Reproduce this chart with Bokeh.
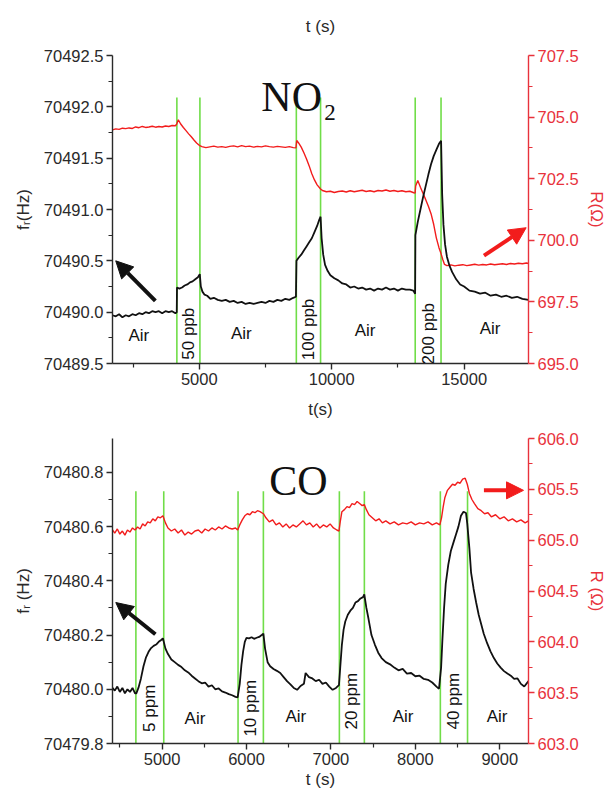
import numpy as np
from bokeh.plotting import figure
from bokeh.models import (Range1d, LinearAxis, FixedTicker, PrintfTickFormatter,
                          Arrow, NormalHead)
from bokeh.layouts import column
from bokeh.core.properties import value
from bokeh.embed import file_html
from bokeh.resources import INLINE

# ---------------------------------------------------------------- NO2 data
no2_t_f = [
    1725, 1850, 1975, 2100, 2225, 2350, 2475, 2600, 2725, 2850, 2975, 3100, 3225, 3350, 3475, 3600, 3725, 3850, 3975, 4100, 4150,
    4160, 4250, 4350, 4450, 4550, 4650, 4750, 4850, 4950, 5020,
    5060, 5120, 5200, 5300, 5420, 5550, 5700, 5850, 6000, 6150, 6300, 6450, 6600, 6750, 6900, 7050, 7200, 7350, 7500, 7650, 7800, 7950, 8100, 8250, 8400, 8550, 8650,
    8670, 8750, 8850, 8950, 9050, 9150, 9250, 9350, 9450, 9530, 9580,
    9620, 9680, 9750, 9850, 9950, 10100, 10250, 10400, 10550, 10700, 10850, 11000, 11150, 11300, 11450, 11600, 11750, 11900, 12050, 12200, 12350, 12500, 12650, 12800, 12950, 13080, 13150,
    13160, 13250, 13350, 13450, 13550, 13650, 13750, 13850, 13950, 14050, 14130,
    14170, 14220, 14280, 14350, 14450, 14550, 14700, 14850, 15000, 15200, 15400, 15600, 15800, 16000, 16200, 16400, 16600, 16800, 17000, 17200, 17430,
]
no2_freq = [
    70489.97, 70489.96, 70489.98, 70489.95, 70489.97, 70489.96, 70489.98, 70489.97, 70489.99, 70489.98, 70490.00, 70489.99, 70490.01, 70490.00, 70490.01, 70489.99, 70490.01, 70490.00, 70490.01, 70489.99, 70490.00,
    70490.24, 70490.23, 70490.24, 70490.26, 70490.27, 70490.29, 70490.30, 70490.32, 70490.34, 70490.37,
    70490.25, 70490.20, 70490.17, 70490.16, 70490.13, 70490.14, 70490.12, 70490.11, 70490.12, 70490.10, 70490.11, 70490.09, 70490.10, 70490.08, 70490.09, 70490.08, 70490.09, 70490.10, 70490.09, 70490.11, 70490.10, 70490.12, 70490.11, 70490.13, 70490.12, 70490.14, 70490.15,
    70490.50, 70490.53, 70490.56, 70490.60, 70490.64, 70490.68, 70490.72, 70490.78, 70490.84, 70490.90, 70490.93,
    70490.72, 70490.56, 70490.46, 70490.40, 70490.36, 70490.33, 70490.31, 70490.28, 70490.27, 70490.24, 70490.25, 70490.23, 70490.24, 70490.22, 70490.23, 70490.21, 70490.23, 70490.22, 70490.24, 70490.22, 70490.23, 70490.21, 70490.23, 70490.22, 70490.22, 70490.21, 70490.18,
    70490.75, 70490.88, 70491.00, 70491.12, 70491.23, 70491.34, 70491.44, 70491.52, 70491.58, 70491.64, 70491.67,
    70491.15, 70490.85, 70490.66, 70490.54, 70490.45, 70490.39, 70490.32, 70490.27, 70490.25, 70490.21, 70490.20, 70490.18, 70490.19, 70490.16, 70490.17, 70490.15, 70490.16, 70490.14, 70490.15, 70490.13, 70490.12,
]
no2_t_r = [
    1725, 1850, 1975, 2100, 2225, 2350, 2475, 2600, 2725, 2850, 2975, 3100, 3225, 3350, 3475, 3600, 3725, 3850, 3975, 4100,
    4150, 4210, 4300, 4400, 4500, 4600, 4700, 4800, 4900, 5020,
    5100, 5250, 5400, 5550, 5700, 5850, 6000, 6150, 6300, 6450, 6600, 6750, 6900, 7050, 7200, 7350, 7500, 7650, 7800, 7950, 8100, 8250, 8400, 8550, 8650,
    8680, 8750, 8850, 8950, 9050, 9150, 9250, 9350, 9450, 9580,
    9650, 9800, 9950, 10100, 10250, 10400, 10550, 10700, 10850, 11000, 11150, 11300, 11450, 11600, 11750, 11900, 12050, 12200, 12350, 12500, 12650, 12800, 12950, 13100, 13150,
    13170, 13250, 13350, 13450, 13550, 13650, 13750, 13850, 13950, 14050, 14130, 14200, 14260,
    14350, 14500, 14650, 14800, 14950, 15100, 15250, 15400, 15550, 15700, 15850, 16000, 16150, 16300, 16450, 16600, 16750, 16900, 17050, 17200, 17350, 17430,
]
no2_res = [
    704.48, 704.52, 704.50, 704.55, 704.53, 704.56, 704.54, 704.60, 704.57, 704.62, 704.58, 704.60, 704.63, 704.59, 704.62, 704.60, 704.64, 704.62, 704.66, 704.65,
    704.72, 704.89, 704.72, 704.58, 704.45, 704.32, 704.20, 704.07, 703.95, 703.84,
    703.80, 703.76, 703.79, 703.82, 703.78, 703.80, 703.77, 703.81, 703.83, 703.79, 703.84, 703.80, 703.82, 703.78, 703.81, 703.79, 703.83, 703.80, 703.78, 703.81, 703.79, 703.77, 703.80, 703.76, 703.75,
    704.05, 703.95, 703.78, 703.55, 703.30, 703.02, 702.70, 702.45, 702.25, 702.08,
    702.02, 701.97, 701.99, 701.94, 701.98, 702.00, 701.96, 702.01, 701.97, 702.00, 702.03, 701.98, 702.01, 701.97, 702.02, 702.00, 702.04, 701.99, 702.02, 701.98, 702.01, 701.97, 701.99, 701.93, 701.92,
    702.20, 702.43, 702.15, 701.90, 701.65, 701.38, 701.08, 700.65, 700.10, 699.70, 699.45, 699.20, 699.02,
    698.97, 699.00, 698.96, 698.99, 699.01, 698.97, 699.00, 699.03, 698.99, 699.02, 699.00, 699.04, 699.01, 699.03, 699.05, 699.02, 699.06, 699.04, 699.07, 699.05, 699.08, 699.06,
]
no2_switch = [4155, 5025, 8665, 9580, 13153, 14128]
no2_gas = ["50 ppb", "100 ppb", "200 ppb"]
no2_ticks_t = [5000, 10000, 15000]
no2_minor_t = [2500, 7500, 12500, 17500]
no2_ticks_f = [70489.5, 70490.0, 70490.5, 70491.0, 70491.5, 70492.0, 70492.5]
no2_ticks_r = [695.0, 697.5, 700.0, 702.5, 705.0, 707.5]

# ----------------------------------------------------------------- CO data
co_t_f = [
    4413, 4440, 4470, 4500, 4530, 4560, 4590, 4620, 4650, 4680, 4695,
    4720, 4750, 4780, 4810, 4840, 4870, 4900, 4930, 4960, 4990, 5010,
    5040, 5070, 5110, 5150, 5190, 5230, 5270, 5310, 5350, 5390, 5430, 5470, 5510, 5550, 5590, 5630, 5670, 5710, 5750, 5790, 5830, 5870, 5895,
    5920, 5940, 5960, 5980, 6000, 6030, 6060, 6090, 6120, 6150, 6180, 6200,
    6220, 6250, 6280, 6320, 6360, 6400, 6440, 6480, 6520, 6560, 6600, 6640, 6680, 6700, 6740, 6780, 6820, 6860, 6900, 6940, 6980, 7020, 7060, 7095,
    7110, 7130, 7150, 7170, 7200, 7230, 7260, 7290, 7320, 7350, 7380, 7395,
    7420, 7445, 7480, 7520, 7560, 7600, 7650, 7700, 7750, 7800, 7850, 7900, 7950, 8000, 8050, 8100, 8150, 8200, 8250, 8280,
    8305, 8320, 8340, 8360, 8390, 8420, 8450, 8480, 8510, 8540, 8570, 8600, 8615,
    8640, 8660, 8690, 8720, 8750, 8780, 8810, 8850, 8890, 8930, 8970, 9010, 9050, 9090, 9130, 9170, 9210, 9250, 9290, 9340,
]
co_freq = [
    70480.005, 70479.995, 70480.010, 70479.990, 70480.005, 70479.985, 70480.000, 70479.990, 70480.005, 70479.985, 70479.985,
    70480.005, 70480.040, 70480.085, 70480.118, 70480.138, 70480.152, 70480.160, 70480.165, 70480.175, 70480.182, 70480.188,
    70480.150, 70480.130, 70480.110, 70480.100, 70480.090, 70480.082, 70480.070, 70480.062, 70480.050, 70480.040, 70480.030, 70480.022, 70480.025, 70480.010, 70480.015, 70480.000, 70480.003, 70479.992, 70479.988, 70479.982, 70479.978, 70479.972, 70479.970,
    70480.020, 70480.090, 70480.140, 70480.175, 70480.190, 70480.188, 70480.192, 70480.186, 70480.190, 70480.193, 70480.200, 70480.205,
    70480.150, 70480.100, 70480.085, 70480.075, 70480.068, 70480.060, 70480.045, 70480.030, 70480.018, 70480.005, 70479.998, 70480.012, 70480.020, 70480.060, 70480.045, 70480.040, 70480.030, 70480.035, 70480.020, 70480.025, 70480.010, 70479.998, 70480.005, 70480.015,
    70480.080, 70480.165, 70480.220, 70480.250, 70480.275, 70480.290, 70480.300, 70480.320, 70480.325, 70480.335, 70480.340, 70480.350,
    70480.300, 70480.260, 70480.200, 70480.165, 70480.135, 70480.115, 70480.100, 70480.092, 70480.080, 70480.070, 70480.075, 70480.058, 70480.060, 70480.048, 70480.050, 70480.038, 70480.035, 70480.025, 70480.010, 70480.002,
    70480.080, 70480.180, 70480.300, 70480.390, 70480.460, 70480.510, 70480.540, 70480.570, 70480.600, 70480.640, 70480.655, 70480.650, 70480.610,
    70480.520, 70480.430, 70480.370, 70480.320, 70480.275, 70480.240, 70480.205, 70480.170, 70480.140, 70480.115, 70480.095, 70480.080, 70480.067, 70480.058, 70480.050, 70480.038, 70480.040, 70480.020, 70480.010, 70480.030,
]
co_t_r = [
    4413, 4440, 4470, 4500, 4530, 4560, 4590, 4620, 4650, 4680,
    4710, 4740, 4770, 4800, 4830, 4860, 4890, 4920, 4950, 4980, 5010,
    5040, 5070, 5110, 5150, 5190, 5230, 5270, 5310, 5350, 5390, 5430, 5470, 5510, 5550, 5590, 5630, 5670, 5710, 5750, 5790, 5830, 5870, 5895,
    5920, 5950, 5980, 6010, 6040, 6070, 6100, 6130, 6160, 6200,
    6230, 6270, 6310, 6350, 6390, 6430, 6470, 6510, 6550, 6590, 6630, 6670, 6710, 6750, 6790, 6830, 6870, 6910, 6950, 6990, 7030, 7070, 7095,
    7110, 7130, 7160, 7190, 7220, 7250, 7280, 7310, 7340, 7370, 7395,
    7420, 7450, 7490, 7530, 7570, 7610, 7650, 7700, 7750, 7800, 7850, 7900, 7950, 8000, 8050, 8100, 8150, 8200, 8250, 8290,
    8310, 8330, 8350, 8380, 8410, 8440, 8470, 8500, 8530, 8560, 8590, 8615,
    8640, 8670, 8700, 8740, 8780, 8820, 8860, 8900, 8950, 9000, 9050, 9100, 9150, 9200, 9250, 9300, 9340,
]
co_res = [
    605.10, 605.07, 605.11, 605.06, 605.09, 605.05, 605.10, 605.08, 605.12, 605.10,
    605.13, 605.11, 605.16, 605.14, 605.18, 605.17, 605.21, 605.19, 605.23, 605.22, 605.24,
    605.17, 605.12, 605.09, 605.11, 605.07, 605.10, 605.05, 605.08, 605.06, 605.09, 605.10, 605.07, 605.11, 605.09, 605.12, 605.10, 605.13, 605.11, 605.14, 605.12, 605.11, 605.12, 605.10,
    605.15, 605.20, 605.24, 605.26, 605.25, 605.28, 605.27, 605.29, 605.28, 605.26,
    605.22, 605.18, 605.20, 605.15, 605.17, 605.13, 605.16, 605.12, 605.15, 605.13, 605.16, 605.19, 605.15, 605.17, 605.13, 605.16, 605.12, 605.15, 605.13, 605.16, 605.12, 605.10, 605.09,
    605.18, 605.28, 605.30, 605.33, 605.32, 605.36, 605.35, 605.38, 605.36, 605.34, 605.35,
    605.30, 605.25, 605.22, 605.19, 605.21, 605.17, 605.19, 605.16, 605.18, 605.15, 605.17, 605.16, 605.18, 605.15, 605.17, 605.16, 605.18, 605.15, 605.17, 605.15,
    605.22, 605.33, 605.42, 605.49, 605.52, 605.55, 605.54, 605.57, 605.56, 605.60, 605.61, 605.55,
    605.46, 605.40, 605.36, 605.31, 605.29, 605.26, 605.27, 605.23, 605.25, 605.21, 605.23, 605.19, 605.21, 605.18, 605.20, 605.17, 605.19,
]
co_switch = [4690, 5020, 5900, 6200, 7100, 7396, 8296, 8618]
co_gas = ["5 ppm", "10 ppm", "20 ppm", "40 ppm"]
co_ticks_t = [5000, 6000, 7000, 8000, 9000]
co_minor_t = [4500, 5500, 6500, 7500, 8500]
co_ticks_f = [70479.8, 70480.0, 70480.2, 70480.4, 70480.6, 70480.8]
co_ticks_r = [603.0, 603.5, 604.0, 604.5, 605.0, 605.5, 606.0]

# ----------------------------------------------------------------- styling
SANS = "Liberation Sans"
SERIF = "Liberation Serif"
INK = "#111111"
AXIS_INK = "#2a2a2a"
RED = "#f21c1c"
AXIS_RED = "#e8323c"
GREEN = "#70dd48"


def minor_between(ticks, parts):
    step = (ticks[1] - ticks[0]) / parts
    out = []
    for a in ticks[:-1]:
        out += [a + k * step for k in range(1, parts)]
    return out


def style_axis(ax, color, label_standoff):
    ax.axis_line_color = color
    ax.axis_line_width = 1.4
    ax.major_tick_line_color = color
    ax.minor_tick_line_color = color
    ax.major_tick_line_width = 1.4
    ax.minor_tick_line_width = 1.2
    ax.major_tick_in = 0
    ax.major_tick_out = 6
    ax.minor_tick_in = 0
    ax.minor_tick_out = 4
    ax.major_label_text_font = SANS
    ax.major_label_text_font_size = "16.5px"
    ax.major_label_text_color = color
    ax.major_label_standoff = 3
    ax.axis_label_text_font = SANS
    ax.axis_label_text_font_size = "17px"
    ax.axis_label_text_font_style = "normal"
    ax.axis_label_text_color = color
    ax.axis_label_standoff = label_standoff


def title_axis(text, standoff):
    ax = LinearAxis(ticker=FixedTicker(ticks=[]), axis_label=text)
    ax.axis_line_color = None
    ax.major_tick_out = 0
    ax.minor_tick_out = 0
    ax.major_label_standoff = 0
    ax.axis_label_text_font = SANS
    ax.axis_label_text_font_size = "17px"
    ax.axis_label_text_font_style = "normal"
    ax.axis_label_text_color = AXIS_INK
    ax.axis_label_standoff = standoff
    return ax


def panel(height, top, bottom, xr, yl, yr, t_f, freq, t_r, res, switch, green_top,
          x_ticks, x_minor, f_ticks, f_minor_parts, r_ticks, r_minor_parts,
          f_label, r_label, top_label, bottom_label):
    p = figure(width=608, height=height, x_range=Range1d(*xr), y_range=Range1d(*yl),
               output_backend="svg", toolbar_location=None,
               x_axis_location=None, y_axis_location=None,
               min_border_left=112, min_border_right=76,
               min_border_top=top, min_border_bottom=bottom)
    p.outline_line_color = None
    p.background_fill_color = "white"
    p.border_fill_color = "white"
    p.grid.visible = False
    p.extra_y_ranges = {"r": Range1d(*yr)}

    # gas on / gas off markers
    n = len(switch)
    p.segment(x0=switch, x1=switch, y0=[yl[0]] * n, y1=[green_top] * n,
              line_color=GREEN, line_width=1.6)

    p.line(t_r, res, y_range_name="r", line_color=RED, line_width=1.4)
    p.line(t_f, freq, line_color=INK, line_width=1.8)

    bx = LinearAxis(ticker=FixedTicker(ticks=x_ticks, minor_ticks=x_minor),
                    formatter=PrintfTickFormatter(format="%d"))
    style_axis(bx, AXIS_INK, 2)
    if bottom_label:
        bx.axis_label = bottom_label
    p.add_layout(bx, "below")

    ly = LinearAxis(ticker=FixedTicker(ticks=f_ticks, minor_ticks=minor_between(f_ticks, f_minor_parts)),
                    formatter=PrintfTickFormatter(format="%.1f"), axis_label=f_label)
    style_axis(ly, AXIS_INK, 8)
    p.add_layout(ly, "left")

    ry = LinearAxis(y_range_name="r",
                    ticker=FixedTicker(ticks=r_ticks, minor_ticks=minor_between(r_ticks, r_minor_parts)),
                    formatter=PrintfTickFormatter(format="%.1f"), axis_label=r_label)
    style_axis(ry, AXIS_RED, 5)
    p.add_layout(ry, "right")

    p.add_layout(title_axis(top_label, 20), "above")
    return p


def gas_labels(p, switch, gas, gas_y, air_x, air_y):
    mids = [(switch[2 * k] + switch[2 * k + 1]) / 2 for k in range(len(gas))]
    p.text(x=mids, y=gas_y, text=gas, angle=np.pi / 2,
           text_font=value(SANS), text_font_size=value("17px"), text_color=INK,
           text_align="center", text_baseline="middle")
    p.text(x=air_x, y=air_y, text=["Air"] * len(air_x),
           text_font=value(SANS), text_font_size=value("17px"), text_color=INK,
           text_align="center", text_baseline="middle")


def big_text(p, x, y, s, size):
    p.text(x=[x], y=[y], text=[s], text_font=value(SERIF),
           text_font_size=value(size), text_color=INK,
           text_align="left", text_baseline="middle")


# ------------------------------------------------------------------ NO2
p1 = panel(395, 55, 32, (1725, 17430), (70489.5, 70492.5), (695.0, 707.5),
           no2_t_f, no2_freq, no2_t_r, no2_res, no2_switch, 70492.09,
           no2_ticks_t, no2_minor_t, no2_ticks_f, 2, no2_ticks_r, 2,
           "f\u1d63(Hz)", "R(\u03a9)", "t (s)", None)
gas_labels(p1, no2_switch, no2_gas, [70489.79, 70489.832, 70489.79],
           [2720, 6590, 11260, 15980], [70489.775, 70489.79, 70489.82, 70489.84])
big_text(p1, 7345, 70492.10, "NO", "42px")
big_text(p1, 9720, 70491.94, "2", "23px")
p1.add_layout(Arrow(end=NormalHead(size=17, fill_color=INK, line_color=INK),
                    x_start=3343, y_start=70490.11, x_end=1847, y_end=70490.50,
                    line_color=INK, line_width=4))
p1.add_layout(Arrow(end=NormalHead(size=17, fill_color=RED, line_color=RED),
                    x_start=15749, y_start=699.38, x_end=17342, y_end=700.51,
                    y_range_name="r", line_color=RED, line_width=4))

# ------------------------------------------------------------------- CO
p2 = panel(399, 43, 51, (4413, 9340), (70479.8, 70480.925), (603.0, 606.0),
           co_t_f, co_freq, co_t_r, co_res, co_switch, 70480.73,
           co_ticks_t, co_minor_t, co_ticks_f, 2, co_ticks_r, 2,
           "f\u1d63 (Hz)", "R (\u03a9)", "t(s)", "t (s)")
gas_labels(p2, co_switch, co_gas, [70479.93, 70479.93, 70479.956, 70479.956],
           [5390, 6585, 7855, 8968], [70479.893, 70479.9, 70479.9, 70479.9])
big_text(p2, 6270, 70480.767, "CO", "42px")
p2.add_layout(Arrow(end=NormalHead(size=17, fill_color=INK, line_color=INK),
                    x_start=4921, y_start=70480.203, x_end=4452, y_end=70480.32,
                    line_color=INK, line_width=4))
p2.add_layout(Arrow(end=NormalHead(size=17, fill_color=RED, line_color=RED),
                    x_start=8812, y_start=605.49, x_end=9281, y_end=605.49,
                    y_range_name="r", line_color=RED, line_width=4))

layout = column(p1, p2, spacing=0)
open("out.html", "w").write(file_html(layout, INLINE))
